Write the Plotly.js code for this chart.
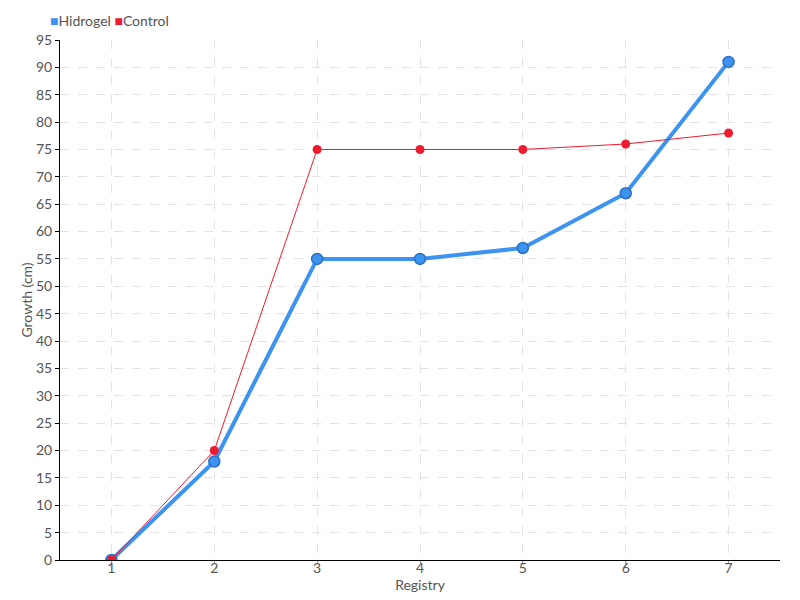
<!DOCTYPE html>
<html><head><meta charset="utf-8">
<script src="https://cdn.plot.ly/plotly-3.0.1.min.js"></script>
<style>html,body{margin:0;padding:0;background:#fff}#c{width:800px;height:600px}</style>
</head><body><div id="c"></div>
<script>
const registry = [1, 2, 3, 4, 5, 6, 7];
const hidrogel = [0, 18, 55, 55, 57, 67, 91];
const control = [0, 20, 75, 75, 75, 76, 78];
const yTicks = [0,5,10,15,20,25,30,35,40,45,50,55,60,65,70,75,80,85,90,95];
const seriesNames = ['Hidrogel', 'Control'];

const blue = '#3d93f0';
const red = '#ee1c2e';
const fam = 'Lato, "Liberation Sans", sans-serif';
const font = {family: fam, size: 14, color: '#555'};
const tickFont = {family: fam, size: 14, color: '#555'};

const traces = [
  {x: registry, y: hidrogel, mode: 'lines+markers', name: seriesNames[0],
   line: {color: blue, width: 4}, marker: {size: 11, color: blue, line: {color: '#2a6fc4', width: 1.5}}},
  {x: registry, y: control, mode: 'lines+markers', name: seriesNames[1],
   line: {color: red, width: 1}, marker: {size: 9, color: red}}
];

const legendText = '<span style="color:' + blue + '">■</span>' + seriesNames[0] +
  ' <span style="color:' + red + '">■</span>' + seriesNames[1];

const layout = {
  width: 800, height: 600,
  margin: {l: 60, r: 20, t: 40, b: 40},
  font: font,
  plot_bgcolor: '#fff', paper_bgcolor: '#fff',
  showlegend: false,
  annotations: [{text: legendText, xref: 'paper', yref: 'paper', x: -0.017, y: 1.0, xanchor: 'left', yanchor: 'bottom',
                 yshift: 9, showarrow: false, font: {family: fam, size: 14, color: '#555'}}],
  xaxis: {range: [0.5, 7.5], tickvals: registry, ticktext: registry.map(String), tickfont: tickFont,
          showline: true, linecolor: '#000', linewidth: 1, ticks: 'outside', tickcolor: '#999', ticklen: 3,
          ticklabelstandoff: -8,
          showgrid: true, gridcolor: '#e3e3e3', griddash: 'dash', gridwidth: 1, zeroline: false,
          title: {text: 'Registry', standoff: 0, font: font}},
  yaxis: {range: [0, 95], tickvals: yTicks, tickfont: tickFont, showline: true, linecolor: '#000', linewidth: 1,
          ticks: 'outside', tickcolor: '#000', ticklen: 4,
          showgrid: true, gridcolor: '#e3e3e3', griddash: 'dash', gridwidth: 1, zeroline: false,
          title: {text: 'Growth (cm)', standoff: 0, font: font}}
};

Plotly.newPlot('c', traces, layout, {displayModeBar: false});
</script></body></html>
